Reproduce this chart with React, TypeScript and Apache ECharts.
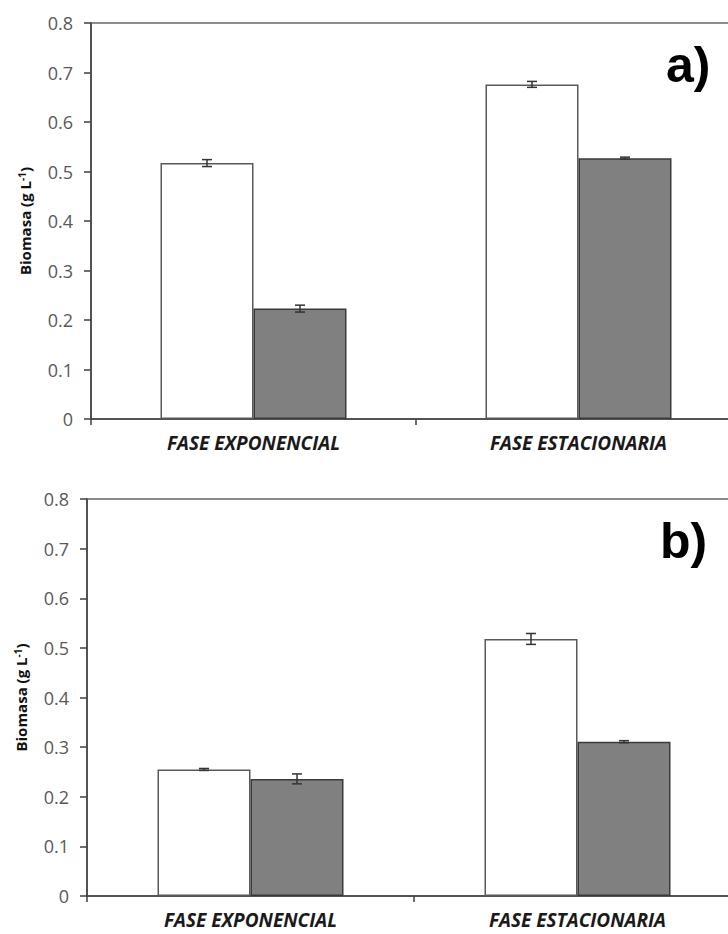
import React, { useEffect, useRef } from "react";
import * as echarts from "echarts";

const categories = ["FASE EXPONENCIAL", "FASE ESTACIONARIA"];
const yTicks = [0, 0.1, 0.2, 0.3, 0.4, 0.5, 0.6, 0.7, 0.8];

// Panel a)
const aWhite = [0.517, 0.676];
const aWhiteErr = [0.007, 0.006];
const aGray = [0.223, 0.527];
const aGrayErr = [0.007, 0.002];

// Panel b)
const bWhite = [0.255, 0.518];
const bWhiteErr = [0.002, 0.011];
const bGray = [0.236, 0.311];
const bGrayErr = [0.01, 0.002];

const panelLabels = ["a)", "b)"];

const BAR_W = 93;
const FONT = "'Open Sans', Lato, sans-serif";

function errSeries(xIdx: number, vals: number[], errs: number[], offset: number) {
  return {
    type: "custom",
    xAxisIndex: xIdx,
    yAxisIndex: xIdx,
    z: 10,
    data: vals.map((v, i) => [i, v, errs[i]]),
    encode: { x: 0, y: 1 },
    renderItem: (params: any, api: any) => {
      const i = api.value(0);
      const v = api.value(1);
      const e = api.value(2);
      const top = api.coord([i, v + e]);
      const bot = api.coord([i, v - e]);
      const x = top[0] + offset;
      const cap = 5;
      const style = { stroke: "#333333", lineWidth: 1.5 };
      return {
        type: "group",
        children: [
          { type: "line", shape: { x1: x, y1: top[1], x2: x, y2: bot[1] }, style },
          { type: "line", shape: { x1: x - cap, y1: top[1], x2: x + cap, y2: top[1] }, style },
          { type: "line", shape: { x1: x - cap, y1: bot[1], x2: x + cap, y2: bot[1] }, style },
        ],
      };
    },
  };
}

function barSeries(idx: number, vals: number[], fill: string, border: string) {
  return {
    type: "bar",
    xAxisIndex: idx,
    yAxisIndex: idx,
    data: vals,
    barWidth: BAR_W,
    barGap: "0%",
    itemStyle: { color: fill, borderColor: border, borderWidth: 1.5 },
  };
}

export default function App() {
  const ref = useRef<HTMLDivElement>(null);
  useEffect(() => {
    if (!ref.current) return;
    const chart = echarts.init(ref.current, undefined, { renderer: "svg" });
    const grids = [
      { left: 91, top: 23, width: 650, height: 396 },
      { left: 87, top: 499, width: 654, height: 397 },
    ];
    const xAxes = grids.map((_, i) => ({
      type: "category",
      gridIndex: i,
      data: categories,
      axisLine: { lineStyle: { color: "#404040", width: 1.5 } },
      axisTick: { show: true, length: 6, lineStyle: { color: "#404040", width: 1.5 } },
      axisLabel: {
        margin: 14,
        fontFamily: FONT,
        fontSize: 19,
        fontStyle: "italic",
        fontWeight: "bold",
        color: "#1a1a1a",
      },
    }));
    const yAxes = grids.map((_, i) => ({
      type: "value",
      gridIndex: i,
      min: 0,
      max: 0.8,
      interval: 0.1,
      name: "{b|Biomasa (g L}{s|-1}{b|)}",
      nameLocation: "middle",
      nameGap: 58,
      nameRotate: 90,
      nameTextStyle: {
        rich: {
          b: { fontFamily: FONT, fontSize: 15, fontWeight: "bold", color: "#111" },
          s: { fontFamily: FONT, fontSize: 10, fontWeight: "bold", color: "#111", verticalAlign: "top", padding: [0, 0, 6, 0] },
        },
      },
      axisLine: { show: true, lineStyle: { color: "#404040", width: 1.5 } },
      axisTick: { show: true, length: 7, lineStyle: { color: "#404040", width: 1.5 } },
      splitLine: { show: false },
      axisLabel: {
        margin: 18,
        fontFamily: FONT,
        fontSize: 18,
        color: "#595959",
        formatter: (v: number) => {
          const t = yTicks.find((x) => Math.abs(x - v) < 1e-6);
          return t === 0 ? "0" : (t ?? v).toFixed(1);
        },
      },
    }));
    chart.setOption({
      animation: false,
      backgroundColor: "#ffffff",
      grid: grids.map((g) => ({
        ...g,
        outerBoundsMode: "none",
        containLabel: false,
        show: true,
        borderColor: "#8c8c8c",
        borderWidth: 2,
        backgroundColor: "transparent",
      })),
      xAxis: xAxes,
      yAxis: yAxes,
      series: [
        barSeries(0, aWhite, "#ffffff", "#595959"),
        barSeries(0, aGray, "#808080", "#3a3a3a"),
        errSeries(0, aWhite, aWhiteErr, -BAR_W / 2),
        errSeries(0, aGray, aGrayErr, BAR_W / 2),
        barSeries(1, bWhite, "#ffffff", "#595959"),
        barSeries(1, bGray, "#808080", "#3a3a3a"),
        errSeries(1, bWhite, bWhiteErr, -BAR_W / 2),
        errSeries(1, bGray, bGrayErr, BAR_W / 2),
      ],
      graphic: [
        {
          type: "text",
          left: 666,
          top: 40,
          style: { text: panelLabels[0], font: "bold 50px 'Liberation Sans', Arial, sans-serif", fill: "#000" },
        },
        {
          type: "text",
          left: 660,
          top: 516,
          style: { text: panelLabels[1], font: "bold 50px 'Liberation Sans', Arial, sans-serif", fill: "#000" },
        },
      ],
    });
    return () => chart.dispose();
  }, []);
  return (
    <div
      ref={ref}
      style={{ position: "absolute", left: 0, top: 0, width: 728, height: 934, overflow: "hidden" }}
    />
  );
}
